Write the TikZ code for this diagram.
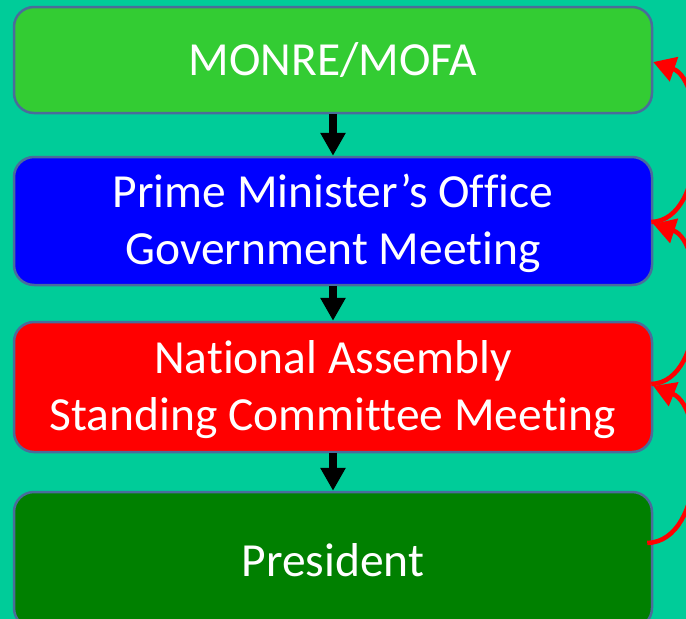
\documentclass[tikz,border=0pt]{standalone}
\usepackage{fontspec}
\setmainfont[Ligatures={NoCommon}]{Carlito}
\usetikzlibrary{arrows.meta,calc}

\definecolor{bgteal}{RGB}{0,204,153}
\definecolor{boxedge}{RGB}{74,108,155}
\definecolor{lightgreen}{RGB}{51,204,51}
\definecolor{pureblue}{RGB}{0,0,255}
\definecolor{purered}{RGB}{255,0,0}
\definecolor{darkgreen}{RGB}{0,128,0}

\tikzset{
  stagebox/.style={draw=boxedge, line width=2.5pt, rounded corners=20pt,
    minimum width=638pt, inner sep=0pt, text=white, align=center,
    font=\fontsize{47.5}{57}\selectfont},
  twoline/.style={text depth=3pt},
  downarrow/.style={draw=black, line width=8pt,
    -{Triangle[width=24pt,length=23pt]}},
  backarrow/.style={draw=purered, line width=4.5pt,
    -{Triangle[width=25pt,length=22pt]}}
}

\begin{document}
\begin{tikzpicture}[x=1pt,y=1pt]
  \useasboundingbox (0,0) rectangle (686,-619);
  \fill[bgteal] (0,0) rectangle (686,-619);
  \clip (0,0) rectangle (686,-619);

  % approval chain, top to bottom
  \node[stagebox, fill=lightgreen, minimum height=106pt] (b1) at (333,-60) {MONRE/MOFA};
  \node[stagebox, twoline, fill=pureblue, minimum height=128pt] (b2) at (333,-221)
    {Prime Minister’s Office\\Government Meeting};
  \node[stagebox, twoline, fill=purered, minimum height=130pt] (b3) at (333,-387)
    {National Assembly\\Standing Committee Meeting};
  \node[stagebox, fill=darkgreen, minimum height=136pt] (b4) at (333,-560) {President};

  % forward steps
  \draw[downarrow] (b1.south) -- (b2.north);
  \draw[downarrow] (b2.south) -- (b3.north);
  \draw[downarrow] (b3.south) -- (b4.north);

  % feedback loops on the right
  \draw[backarrow] ($(b2.east)+(-2,-1)$) .. controls ($(b2.east)+(56,1)$) and ($(b1.east)+(52,-20)$) .. ($(b1.east)+(0,-2)$);
  \draw[backarrow] ($(b3.east)+(-2,3)$) .. controls ($(b3.east)+(56,5)$) and ($(b2.east)+(52,-20)$) .. ($(b2.east)+(0,-3)$);
  \draw[backarrow] ($(b4.east)+(-6,17)$) .. controls ($(b4.east)+(54,19)$) and ($(b3.east)+(52,-20)$) .. ($(b3.east)+(0,1)$);
\end{tikzpicture}
\end{document}
